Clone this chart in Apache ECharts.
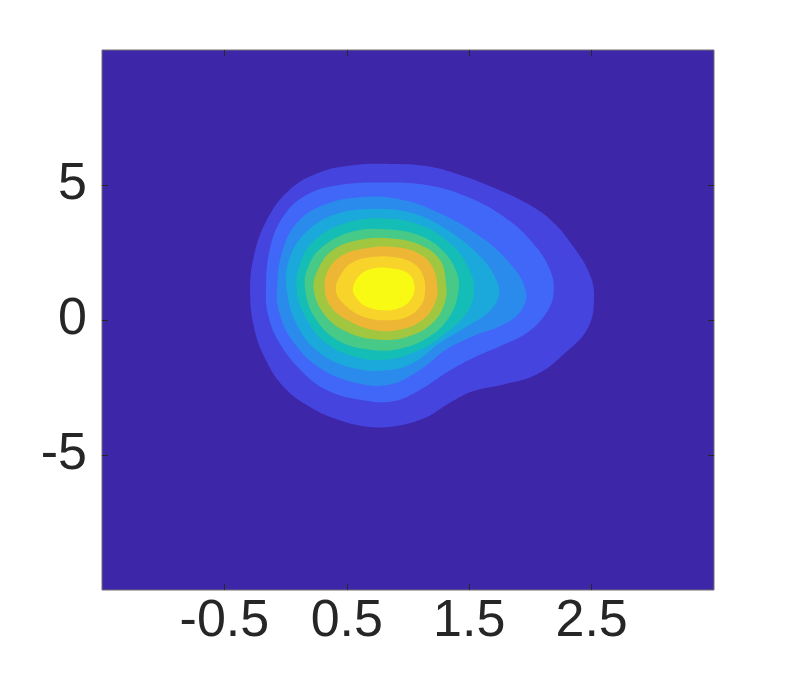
<!DOCTYPE html>
<html>
<head>
<meta charset="utf-8">
<script src="https://cdn.jsdelivr.net/npm/echarts@6/dist/echarts.min.js"></script>
<style>
html,body{margin:0;padding:0;background:#fff;}
#chart{width:789px;height:673px;}
</style>
</head>
<body>
<div id="chart"></div>
<script>
// Axis ticks
const xTicks = [-0.5, 0.5, 1.5, 2.5];
const yTicks = [-5, 0, 5];
const xRange = [-1.5, 3.5];
const yRange = [-10, 10];

// Filled contour levels (parula), background first
const levelColors = ['#3E26A8','#4544DF','#4067F8','#2B8BEC','#1BA9DC','#14BDB5','#47C987','#A1C740','#EDB735','#F8D32A','#F9FA14'];

// Contour outlines [x, y], outermost to innermost
const ring1 = [[-0.29,1.12],[-0.26,2.35],[-0.16,3.65],[0.02,4.77],[0.27,5.45],[0.55,5.73],[0.85,5.78],[1.15,5.70],[1.42,5.38],[1.69,4.92],[1.97,4.32],[2.18,3.65],[2.35,2.72],[2.48,1.74],[2.52,0.87],[2.47,-0.30],[2.27,-1.28],[2.05,-2.02],[1.78,-2.39],[1.53,-2.64],[1.34,-3.07],[1.14,-3.62],[0.90,-3.93],[0.69,-3.96],[0.44,-3.71],[0.21,-3.25],[-0.01,-2.51],[-0.17,-1.41],[-0.26,-0.24]];
const ring2 = [[-0.16,1.12],[-0.13,2.60],[-0.02,3.83],[0.17,4.63],[0.44,5.00],[0.80,5.09],[1.15,5.00],[1.48,4.57],[1.80,3.77],[2.02,2.85],[2.16,1.86],[2.19,1.00],[2.13,0.26],[1.97,-0.48],[1.75,-0.97],[1.53,-1.41],[1.31,-1.96],[1.10,-2.58],[0.88,-3.01],[0.61,-2.95],[0.33,-2.58],[0.12,-1.84],[-0.05,-0.85],[-0.14,0.13]];
const ring3 = [[-0.07,1.12],[-0.03,2.48],[0.09,3.59],[0.31,4.26],[0.61,4.55],[0.93,4.47],[1.26,3.95],[1.59,3.09],[1.83,2.11],[1.96,1.12],[1.93,0.38],[1.78,-0.17],[1.53,-0.60],[1.31,-1.10],[1.10,-1.84],[0.85,-2.39],[0.58,-2.33],[0.28,-1.78],[0.05,-0.73],[-0.05,0.26]];
const ring4 = [[0.01,1.12],[0.03,2.23],[0.16,3.22],[0.39,3.89],[0.71,4.11],[1.04,3.95],[1.34,3.28],[1.59,2.35],[1.72,1.49],[1.74,0.87],[1.65,0.26],[1.48,-0.24],[1.26,-0.85],[1.04,-1.59],[0.82,-1.86],[0.55,-1.78],[0.28,-1.22],[0.10,-0.24]];
const ring5 = [[0.09,1.12],[0.12,2.11],[0.24,2.97],[0.47,3.56],[0.77,3.77],[1.10,3.52],[1.34,2.85],[1.49,1.98],[1.54,1.06],[1.48,0.26],[1.31,-0.48],[1.10,-1.10],[0.82,-1.47],[0.55,-1.34],[0.31,-0.79],[0.16,0.13]];
const ring6 = [[0.16,1.12],[0.19,2.04],[0.32,2.78],[0.55,3.28],[0.82,3.36],[1.10,3.12],[1.29,2.54],[1.40,1.74],[1.41,1.00],[1.34,0.13],[1.18,-0.60],[0.93,-1.07],[0.69,-1.10],[0.44,-0.79],[0.25,0.01]];
const ring7 = [[0.23,1.12],[0.27,1.92],[0.39,2.60],[0.61,2.97],[0.85,3.03],[1.10,2.78],[1.26,2.23],[1.31,1.37],[1.30,0.63],[1.20,-0.11],[1.01,-0.60],[0.77,-0.73],[0.52,-0.48],[0.33,0.13]];
const ring8 = [[0.32,1.12],[0.35,1.86],[0.47,2.41],[0.66,2.66],[0.88,2.70],[1.07,2.50],[1.19,2.04],[1.24,1.24],[1.22,0.63],[1.12,0.01],[0.93,-0.36],[0.71,-0.36],[0.50,0.01],[0.37,0.50]];
const ring9 = [[0.41,1.12],[0.46,1.74],[0.55,2.14],[0.71,2.33],[0.88,2.33],[1.04,2.11],[1.12,1.68],[1.14,1.12],[1.11,0.57],[1.00,0.13],[0.82,-0.01],[0.63,0.13],[0.48,0.57]];
const ring10 = [[0.55,1.18],[0.61,1.68],[0.71,1.90],[0.85,1.92],[0.99,1.76],[1.05,1.37],[1.03,0.81],[0.93,0.44],[0.80,0.36],[0.66,0.50],[0.58,0.81]];

const rings = [ring1, ring2, ring3, ring4, ring5, ring6, ring7, ring8, ring9, ring10];

const chart = echarts.init(document.getElementById('chart'), null, {renderer: 'canvas'});
const labelFont = {fontFamily: 'Liberation Sans, Arial, sans-serif', fontSize: 52, color: '#262626'};
const tickStyle = {color: '#262626', width: 1};

const option = {
  animation: false,
  backgroundColor: '#ffffff',
  grid: {left: 102, top: 50, width: 612, height: 540, show: true, backgroundColor: levelColors[0], borderColor: '#707070', borderWidth: 1, containLabel: false},
  xAxis: [
    {type: 'value', min: xRange[0], max: xRange[1], position: 'bottom',
     axisLine: {show: false, onZero: false}, splitLine: {show: false},
     axisTick: {show: true, inside: true, length: 6, lineStyle: tickStyle, customValues: xTicks},
     axisLabel: Object.assign({show: true, margin: 6, customValues: xTicks, formatter: v => String(v)}, labelFont)},
    {type: 'value', min: xRange[0], max: xRange[1], position: 'top',
     axisLine: {show: false, onZero: false}, splitLine: {show: false}, axisLabel: {show: false},
     axisTick: {show: true, inside: true, length: 6, lineStyle: tickStyle, customValues: xTicks}}
  ],
  yAxis: [
    {type: 'value', min: yRange[0], max: yRange[1], position: 'left',
     axisLine: {show: false, onZero: false}, splitLine: {show: false},
     axisTick: {show: true, inside: true, length: 6, lineStyle: tickStyle, customValues: yTicks},
     axisLabel: Object.assign({show: true, margin: 15, customValues: yTicks, formatter: v => String(v)}, labelFont)},
    {type: 'value', min: yRange[0], max: yRange[1], position: 'right',
     axisLine: {show: false, onZero: false}, splitLine: {show: false}, axisLabel: {show: false},
     axisTick: {show: true, inside: true, length: 6, lineStyle: tickStyle, customValues: yTicks}}
  ],
  series: [{
    type: 'custom',
    coordinateSystem: 'cartesian2d',
    xAxisIndex: 0, yAxisIndex: 0,
    silent: true,
    data: rings.map((r, i) => [r[0][0], r[0][1], i]),
    renderItem: function (params, api) {
      const ring = rings[params.dataIndex];
      const pts = ring.map(p => api.coord(p));
      return {
        type: 'polygon',
        shape: {points: pts, smooth: 0.4},
        style: {fill: levelColors[params.dataIndex + 1], stroke: null}
      };
    },
    clip: true,
    z: 1
  }]
};
chart.setOption(option);
</script>
</body>
</html>
